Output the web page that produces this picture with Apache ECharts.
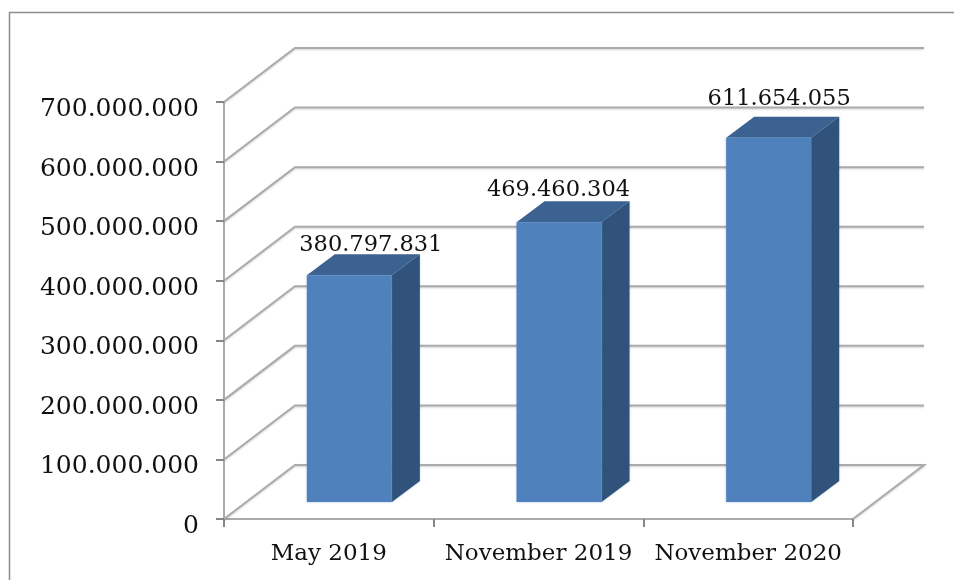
<!DOCTYPE html>
<html><head><meta charset="utf-8">
<style>html,body{margin:0;padding:0;background:#fff}#c{width:954px;height:580px}</style>
<script src="https://cdn.jsdelivr.net/npm/echarts@6/dist/echarts.min.js"></script>
</head><body><div id="c"></div>
<script>
const categories = ['May 2019', 'November 2019', 'November 2020'];
const values = [380797831, 469460304, 611654055];
const valueLabels = ['380.797.831', '469.460.304', '611.654.055'];
const yMax = 700000000;
const yStep = 100000000;
const yTicks = [0, 100000000, 200000000, 300000000, 400000000, 500000000, 600000000, 700000000];

const FONT = '"DejaVu Serif", "Liberation Serif", serif';
const DEPTH = [71, -54];
const GRID_COLOR = '#ababab';
// hand-placed label offsets relative to each bar's front-left / back-top corner
const LABEL_DX = [64, 42, 53];
const LABEL_DY = [-9, -11, -17];
const chart = echarts.init(document.getElementById('c'));

function fmt(v) { return String(v).replace(/\B(?=(\d{3})+(?!\d))/g, '.'); }

function renderWall(params, api) {
  const v = api.value(0);
  const left = api.coord([0, v]);
  left[0] = params.coordSys.x;
  const frontRight = params.coordSys.x + params.coordSys.width;
  const bl = [left[0] + DEPTH[0], left[1] + DEPTH[1]];
  const br = [frontRight + DEPTH[0], left[1] + DEPTH[1]];
  const pts = v === 0 ? [left, bl, br, [frontRight, left[1]]] : [left, bl, br];
  return {
    type: 'polyline', silent: true,
    shape: { points: pts },
    style: { fill: null, stroke: GRID_COLOR, lineWidth: 2, shadowBlur: 2, shadowColor: 'rgba(0,0,0,0.18)', shadowOffsetY: 1 }
  };
}

function renderBar(params, api) {
  const i = api.value(0), v = api.value(1);
  const c = api.coord([i, v]), z = api.coord([i, 0]);
  const x0 = c[0] - 22, x1 = c[0] + 63, yT = c[1] - 17, yB = z[1] - 17;
  const dx = 28, dy = -21;
  return {
    type: 'group',
    children: [
      { type: 'polygon', shape: { points: [[x1, yT], [x1 + dx, yT + dy], [x1 + dx, yB + dy], [x1, yB]] },
        style: { fill: '#30527b', shadowBlur: 2, shadowColor: 'rgba(79,129,189,0.5)' } },
      { type: 'polygon', shape: { points: [[x0, yT], [x0 + dx, yT + dy], [x1 + dx, yT + dy], [x1, yT]] },
        style: { fill: '#3b6291' } },
      { type: 'rect', shape: { x: x0, y: yT, width: x1 - x0, height: yB - yT },
        style: { fill: '#4f81bd', shadowBlur: 2, shadowColor: 'rgba(79,129,189,0.5)' } },
      { type: 'text', z2: 10, style: { text: valueLabels[i], x: x0 + LABEL_DX[i], y: yT + dy + LABEL_DY[i], align: 'center', verticalAlign: 'middle',
        font: '22.5px ' + FONT, fill: '#111' } }
    ]
  };
}

chart.setOption({
  animation: false,
  backgroundColor: '#fff',
  grid: { left: 224, right: 101, top: 102, bottom: 61, containLabel: false },
  xAxis: {
    type: 'category', data: categories, boundaryGap: true,
    axisLine: { lineStyle: { color: GRID_COLOR, width: 2 } },
    axisTick: { show: true, length: 8, alignWithLabel: false, lineStyle: { color: '#868686', width: 2 } },
    axisLabel: { color: '#111', fontFamily: FONT, fontSize: 23, margin: 24, interval: 0, hideOverlap: false }
  },
  yAxis: {
    type: 'value', min: 0, max: yMax, interval: yStep,
    axisLine: { show: true, lineStyle: { color: GRID_COLOR, width: 2 } },
    axisTick: { show: true, length: 8, lineStyle: { color: '#868686', width: 2 } },
    splitLine: { show: false },
    axisLabel: { margin: 25, verticalAlign: 'middle', formatter: v => '{v|' + fmt(v) + '}',
      rich: { v: { color: '#111', fontFamily: FONT, fontSize: 25, padding: [15, 0, 0, 0] } } }
  },
  series: [
    { type: 'custom', name: 'walls', coordinateSystem: 'cartesian2d', data: yTicks.map(v => [v]), encode: { y: 0 }, renderItem: renderWall, z: 1, silent: true },
    { type: 'custom', name: 'value', coordinateSystem: 'cartesian2d', data: values.map((v, i) => [i, v]), encode: { x: 0, y: 1 }, renderItem: renderBar, z: 3 }
  ],
  graphic: [
    { type: 'polyline', shape: { points: [[9.5, 580], [9.5, 12.5], [954, 12.5]] }, style: { fill: null, stroke: '#8c8c8c', lineWidth: 1.5 }, silent: true }
  ]
});
</script></body></html>
